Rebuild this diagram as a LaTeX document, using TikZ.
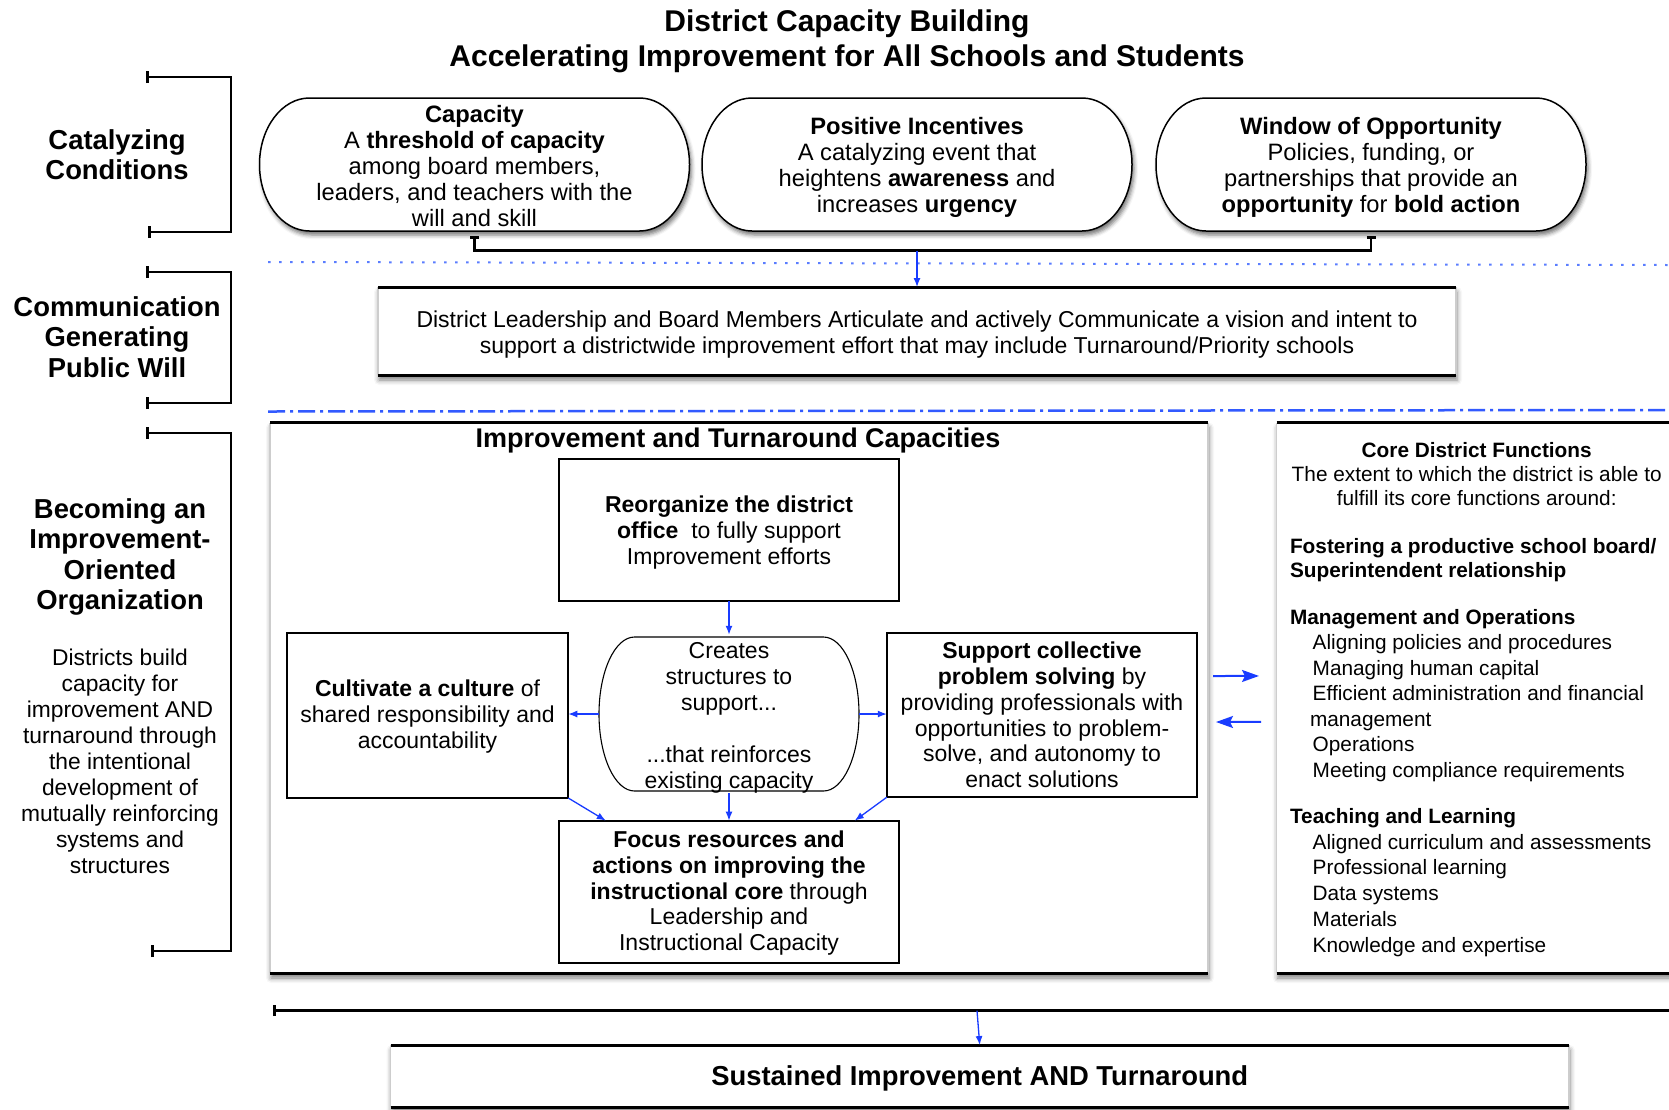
\documentclass[tikz,border=0pt]{standalone}
\usepackage{fontspec}
\setmainfont{Liberation Sans}
\usetikzlibrary{arrows.meta,shadows.blur}
\pgfdeclarelayer{bg}
\pgfsetlayers{bg,main}
\definecolor{arrowblue}{RGB}{25,60,255}
\definecolor{dotblue}{RGB}{90,125,255}
\definecolor{dashblue}{RGB}{50,90,255}
\definecolor{sidegray}{RGB}{205,205,205}
% strut that pushes a centred block of text down by about #1 px
\newcommand{\dn}[1]{\rule{0pt}{\dimexpr 0.75em+#1pt*2\relax}}
\tikzset{
  every node/.style={inner sep=0pt, outer sep=0pt, align=center, font=\fontsize{23}{25.8}\selectfont},
  titletxt/.style={font=\fontsize{30}{35}\selectfont\bfseries},
  sidelbl/.style={font=\fontsize{27.4}{30.2}\selectfont\bfseries},
  sidetxt/.style={font=\fontsize{22.8}{26}\selectfont},
  pilltxt/.style={font=\fontsize{23.7}{26}\selectfont, minimum width=430, minimum height=133},
  pillline/.style={draw=black, line width=1.5, fill=white, blur shadow={shadow xshift=2pt, shadow yshift=-4pt, shadow blur radius=4pt, shadow opacity=55}},
  slabfill/.style={fill=white, blur shadow={shadow xshift=1pt, shadow yshift=-5pt, shadow blur radius=5pt, shadow opacity=50}},
  slabside/.style={draw=sidegray, line width=1.5},
  slabedge/.style={draw=black, line width=3},
  ibox/.style={draw=black, line width=2.2, fill=white},
  heavytxt/.style={font=\fontsize{27}{30}\selectfont\bfseries},
  corehead/.style={font=\fontsize{20.8}{24}\selectfont},
  coretxt/.style={font=\fontsize{20.8}{25.5}\selectfont, align=left, anchor=west},
  brk/.style={draw=black, line width=2.5, {Bar[width=12pt]}-{Bar[width=12pt]}},
  arr/.style={draw=arrowblue, line width=1.3, -{Latex[length=9pt,width=7pt]}},
  bigarr/.style={draw=arrowblue, line width=2, -{Stealth[length=17pt,width=12pt,inset=3pt]}},
}
\begin{document}
\begin{tikzpicture}[x=1pt,y=1pt]
\useasboundingbox (0,0) rectangle (1669,-1109);

% title
\node[titletxt] (title) at (847,-41.5) {District Capacity Building\\Accelerating Improvement for All Schools and Students};

% left labels
\node[sidelbl] (cat) at (117,-155) {Catalyzing\\Conditions};
\node[sidelbl] (com) at (117,-337) {Communication\\Generating\\Public Will};
\node[sidelbl] (bec) at (120,-557) {Becoming an\\Improvement-\\Oriented\\Organization};
\node[sidetxt] (dist) at (120,-761.6) {Districts build\\capacity for\\improvement AND\\turnaround through\\the intentional\\development of\\mutually reinforcing\\systems and\\structures};

% left brackets
\draw[brk] (146,-77) -- (231,-77) -- (231,-232) -- (148,-232);
\draw[brk] (146,-272) -- (231,-272) -- (231,-403) -- (146,-403);
\draw[brk] (146,-433) -- (231,-433) -- (231,-951) -- (151,-951);

% pills
\node[pilltxt] (p1) at (474.5,-164.5) {\dn{1}\textbf{Capacity}\\A \textbf{threshold of capacity}\\among board members,\\leaders, and teachers with the\\will and skill};
\node[pilltxt] (p2) at (917,-164.5) {\dn{3}\textbf{Positive Incentives}\\A catalyzing event that\\heightens \textbf{awareness} and\\increases \textbf{urgency}};
\node[pilltxt] (p3) at (1371,-164.5) {\dn{3}\textbf{Window of Opportunity}\\Policies, funding, or\\partnerships that provide an\\\textbf{opportunity} for \textbf{bold action}};

% separators
\draw[dotblue, line width=2, dash pattern=on 2.5pt off 8.5pt] (268,-262) -- (1669,-265);
\draw[dashblue, line width=2.5, dash pattern=on 17pt off 5pt on 3pt off 5pt] (268,-411.5) -- (1669,-410);

% communication
\node[minimum width=1078, minimum height=88] (comm) at (917,-331) {\dn{3}District Leadership and Board Members Articulate and actively Communicate a vision and intent to\\support a districtwide improvement effort that may include Turnaround/Priority schools};

% pill bracket
\coordinate (pj) at (917,-250.5);
\draw[draw=black, line width=2.5, {Bar[width=9pt]}-{Bar[width=9pt]}] ([yshift=-5]p1.south) -- (p1.south |- pj) -- (p3.south |- pj) -- ([yshift=-5]p3.south);
\draw[arr] (pj) -- (comm.north);

% improvement area
\node[minimum width=938, minimum height=550.4] (imp) at (739,-697.8) {};
\node[heavytxt] (imptitle) at (738,-440.5) {Improvement and Turnaround Capacities};

\node[ibox, minimum width=340, minimum height=142] (reorg) at (729,-530) {\dn{2}\textbf{Reorganize the district}\\\textbf{office}~ to fully support\\Improvement efforts};
\node[ibox, minimum width=281.5, minimum height=165] (cult) at (427.5,-715.5) {\dn{1}\textbf{Cultivate a culture} of\\shared responsibility and\\accountability};
\node[minimum width=260, minimum height=154, font=\fontsize{23}{26.1}\selectfont] (creates) at (729,-714) {\dn{3}Creates\\structures to\\support...\\[26.1pt]...that reinforces\\existing capacity};
\node[ibox, minimum width=310.5, minimum height=164.5] (supp) at (1042,-715) {\textbf{Support collective}\\\textbf{problem solving} by\\providing professionals with\\opportunities to problem-\\solve, and autonomy to\\enact solutions};
\node[ibox, minimum width=340.5, minimum height=142.4] (focus) at (729,-891.8) {\dn{1}\textbf{Focus resources and}\\\textbf{actions on improving the}\\\textbf{instructional core} through\\Leadership and\\Instructional Capacity};

\draw[arr] (reorg.south) -- (creates.north);
\draw[arr] (creates.west) -- (creates.west -| cult.east);
\draw[arr] (creates.east) -- (creates.east -| supp.west);
\draw[arr] (creates.south) -- (focus.north);
\draw[arr] (cult.south east) -- ([xshift=47]focus.north west);
\draw[arr] (supp.south west) -- ([xshift=-44.5]focus.north east);

% core functions
\node[minimum width=410, minimum height=550.5] (core) at (1481.7,-697.75) {};
\node[corehead] (corehd) at (1476.7,-474.5) {\textbf{Core District Functions}\\The extent to which the district is able to\\fulfill its core functions around:};
\node[coretxt, font=\fontsize{20.8}{24}\selectfont\bfseries] (cfa) at (1290,-559.8) {Fostering a productive school board/\\Superintendent relationship};
\node[coretxt] (cfb) at (1290,-695.3) {\textbf{Management and Operations}\\\hspace*{22.7pt}Aligning policies and procedures\\\hspace*{22.7pt}Managing human capital\\\hspace*{22.7pt}Efficient administration and financial\\\hspace*{20pt}management\\\hspace*{22.7pt}Operations\\\hspace*{22.7pt}Meeting compliance requirements};
\node[coretxt, font=\fontsize{20.8}{25.9}\selectfont] (cfc) at (1290,-882.5) {\textbf{Teaching and Learning}\\\hspace*{22.7pt}Aligned curriculum and assessments\\\hspace*{22.7pt}Professional learning\\\hspace*{22.7pt}Data systems\\\hspace*{22.7pt}Materials\\\hspace*{22.7pt}Knowledge and expertise};

\draw[bigarr] ([xshift=5,yshift=21.8]imp.east) -- ([xshift=-17.7,yshift=21.8]core.west);
\draw[bigarr] ([xshift=-15.7,yshift=-24.2]core.west) -- ([xshift=8,yshift=-24.2]imp.east);

% bottom
\node[minimum width=1178.5, minimum height=62.3, font=\fontsize{27.4}{30}\selectfont\bfseries] (sus) at (979.75,-1076.2) {\dn{2}Sustained Improvement AND Turnaround};
\coordinate (bl) at (272.6,-1010.7);
\coordinate (br) at (1680,-1010.7);
\coordinate (bj) at (977,-1010.7);
\draw[draw=black, line width=3, {Bar[width=11pt]}-] (bl) -- (br);
\draw[arr] (bj) -- (sus.north);

% background shapes
\begin{pgfonlayer}{bg}
\foreach \n in {comm,imp,core,sus} {
  \path[slabfill] (\n.north west) rectangle (\n.south east);
  \draw[slabside] (\n.north west) -- (\n.south west) (\n.north east) -- (\n.south east);
  \draw[slabedge] (\n.north west) -- (\n.north east) (\n.south west) -- (\n.south east);
}
\foreach \n in {p1,p2,p3} {
  \path[pillline] ([shift={(-165,66.5)}]\n.center) -- ([shift={(165,66.5)}]\n.center)
    arc[start angle=90,end angle=-90,x radius=50,y radius=66.5]
    -- ([shift={(-165,-66.5)}]\n.center)
    arc[start angle=270,end angle=90,x radius=50,y radius=66.5] -- cycle;
}
\path[draw=black, line width=1.1, fill=white] ([shift={(-94.5,77)}]creates.center) -- ([shift={(94.5,77)}]creates.center)
    arc[start angle=90,end angle=-90,x radius=35.5,y radius=77]
    -- ([shift={(-94.5,-77)}]creates.center)
    arc[start angle=270,end angle=90,x radius=35.5,y radius=77] -- cycle;
\end{pgfonlayer}
\end{tikzpicture}
\end{document}
